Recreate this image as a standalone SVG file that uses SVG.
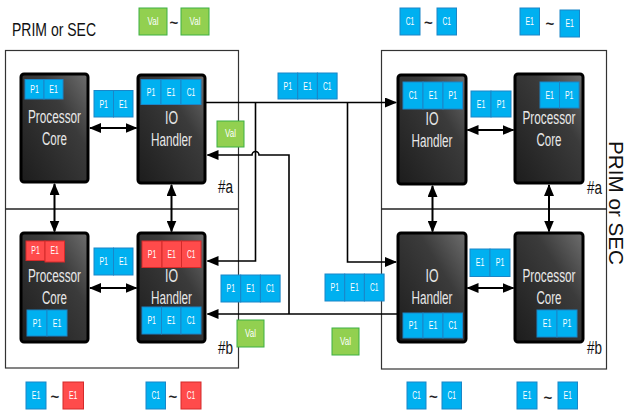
<svg xmlns="http://www.w3.org/2000/svg" width="627" height="410" viewBox="0 0 627 410">
<defs>
<linearGradient id="dk" x1="1" y1="0" x2="0" y2="1">
<stop offset="0" stop-color="#6e6e6e"/>
<stop offset="0.35" stop-color="#3b3b3b"/>
<stop offset="1" stop-color="#1c1c1c"/>
</linearGradient>
<marker id="ah" markerUnits="userSpaceOnUse" viewBox="0 0 12 10" markerWidth="12" markerHeight="10" refX="11" refY="5" orient="auto-start-reverse">
<path d="M0,0 L12,5 L0,10 Z" fill="#000"/>
</marker>
<style>
.frame{fill:#fff;stroke:#333;stroke-width:1.2}
.div{stroke:#222;stroke-width:1.3}
.node{fill:url(#dk);stroke:#000;stroke-width:3}
.nt{font-family:"Liberation Sans",Arial,sans-serif;font-size:17.5px;fill:#e8e8e8;text-anchor:middle}
.b{fill:#00b0f0;stroke:#1a86c8;stroke-width:1}
.r{fill:#ff4b4b;stroke:#d42a2a;stroke-width:1}
.g{fill:#92d050;stroke:#3cb043;stroke-width:1}
.t{font-family:"Liberation Sans",Arial,sans-serif;font-size:10px;fill:#fff;text-anchor:middle}
.lb{font-family:"Liberation Sans",Arial,sans-serif;fill:#111}
.tl{font-family:"Liberation Sans",Arial,sans-serif;font-size:15px;font-weight:bold;fill:#222;text-anchor:middle}
.c{fill:none;stroke:#000;stroke-width:1.6}
.d{fill:none;stroke:#000;stroke-width:2}
</style>
</defs>

<g id="frames">
<rect class="frame" x="5.5" y="50.5" width="233" height="317.5"/>
<line class="div" x1="5.5" y1="209" x2="238.5" y2="209"/>
<rect class="frame" x="381.5" y="50.5" width="225" height="318.5"/>
<line class="div" x1="381.5" y1="209" x2="606.5" y2="209"/>
</g>

<g id="labels">
<text class="lb" x="12" y="36" font-size="18.5" textLength="84" lengthAdjust="spacingAndGlyphs">PRIM or SEC</text>
<text class="lb" transform="translate(609,141) rotate(90)" font-size="19.5" textLength="124" lengthAdjust="spacingAndGlyphs">PRIM or SEC</text>
<text class="lb" x="218" y="193" font-size="18" textLength="15" lengthAdjust="spacingAndGlyphs">#a</text>
<text class="lb" x="218" y="354" font-size="18" textLength="15" lengthAdjust="spacingAndGlyphs">#b</text>
<text class="lb" x="587" y="194" font-size="18" textLength="15" lengthAdjust="spacingAndGlyphs">#a</text>
<text class="lb" x="587" y="354" font-size="18" textLength="15" lengthAdjust="spacingAndGlyphs">#b</text>
</g>

<g id="connectors">
<line class="d" x1="90" y1="128" x2="136.5" y2="128" marker-start="url(#ah)" marker-end="url(#ah)"/>
<line class="d" x1="90" y1="288" x2="136.5" y2="288" marker-start="url(#ah)" marker-end="url(#ah)"/>
<line class="d" x1="54.5" y1="184" x2="54.5" y2="231.5" marker-start="url(#ah)" marker-end="url(#ah)"/>
<line class="d" x1="171.5" y1="185" x2="171.5" y2="231.5" marker-start="url(#ah)" marker-end="url(#ah)"/>
<line class="d" x1="467.5" y1="130" x2="513.5" y2="130" marker-start="url(#ah)" marker-end="url(#ah)"/>
<line class="d" x1="467.5" y1="288" x2="513.5" y2="288" marker-start="url(#ah)" marker-end="url(#ah)"/>
<line class="d" x1="432.5" y1="186" x2="432.5" y2="231.5" marker-start="url(#ah)" marker-end="url(#ah)"/>
<line class="d" x1="549" y1="185" x2="549" y2="231.5" marker-start="url(#ah)" marker-end="url(#ah)"/>
<path class="c" d="M206,102.5 H396" marker-end="url(#ah)"/>
<path class="c" d="M255.5,102.5 V261 H207.5" marker-end="url(#ah)"/>
<path class="c" d="M347.5,102.5 V262 H396" marker-end="url(#ah)"/>
<path class="c" d="M397,314 H207.5" marker-end="url(#ah)"/>
<path class="c" d="M289,314 V155 H259 A3.5,3.5 0 0 0 252,155 H207.5" marker-end="url(#ah)"/>
</g>

<g id="proc-a-left">
<rect class="node" x="21" y="74" width="67" height="108" rx="3"/>
<rect class="b" x="25" y="79.5" width="19" height="19.5"/><text class="t" x="34.5" y="92.7" textLength="8.5" lengthAdjust="spacingAndGlyphs">P1</text>
<rect class="b" x="44" y="79.5" width="19" height="19.5"/><text class="t" x="53.5" y="92.7" textLength="8.5" lengthAdjust="spacingAndGlyphs">E1</text>
<text class="nt" x="54.5" y="123" textLength="53" lengthAdjust="spacingAndGlyphs">Processor</text>
<text class="nt" x="54.5" y="145" textLength="25" lengthAdjust="spacingAndGlyphs">Core</text>
</g>

<g id="io-a-left">
<rect class="node" x="138" y="75" width="67" height="108" rx="3"/>
<rect class="b" x="141" y="79.5" width="20" height="25"/><text class="t" x="151" y="95.5" textLength="8.5" lengthAdjust="spacingAndGlyphs">P1</text>
<rect class="b" x="161" y="79.5" width="20" height="25"/><text class="t" x="171" y="95.5" textLength="8.5" lengthAdjust="spacingAndGlyphs">E1</text>
<rect class="b" x="181" y="79.5" width="20" height="25"/><text class="t" x="191" y="95.5" textLength="8.5" lengthAdjust="spacingAndGlyphs">C1</text>
<text class="nt" x="171.5" y="124" textLength="13" lengthAdjust="spacingAndGlyphs">IO</text>
<text class="nt" x="171.5" y="146" textLength="41" lengthAdjust="spacingAndGlyphs">Handler</text>
</g>

<g id="proc-b-left">
<rect class="node" x="21" y="233" width="67" height="109" rx="3"/>
<rect class="r" x="26" y="241" width="19" height="19.5"/><text class="t" x="35.5" y="254.2" textLength="8.5" lengthAdjust="spacingAndGlyphs">P1</text>
<rect class="r" x="45" y="241" width="19.5" height="21"/><text class="t" x="54.7" y="254.2" textLength="8.5" lengthAdjust="spacingAndGlyphs">E1</text>
<rect class="b" x="27" y="310" width="20" height="26"/><text class="t" x="37" y="326.5" textLength="8.5" lengthAdjust="spacingAndGlyphs">P1</text>
<rect class="b" x="47" y="310" width="20" height="26"/><text class="t" x="57" y="326.5" textLength="8.5" lengthAdjust="spacingAndGlyphs">E1</text>
<text class="nt" x="54.5" y="282" textLength="53" lengthAdjust="spacingAndGlyphs">Processor</text>
<text class="nt" x="54.5" y="304" textLength="25" lengthAdjust="spacingAndGlyphs">Core</text>
</g>

<g id="io-b-left">
<rect class="node" x="138" y="233" width="67" height="109" rx="3"/>
<rect class="r" x="142" y="241" width="20" height="26.5"/><text class="t" x="152" y="257.7" textLength="8.5" lengthAdjust="spacingAndGlyphs">P1</text>
<rect class="r" x="162" y="241" width="19.5" height="26.5"/><text class="t" x="171.7" y="257.7" textLength="8.5" lengthAdjust="spacingAndGlyphs">E1</text>
<rect class="r" x="181.5" y="241" width="19.5" height="26.5"/><text class="t" x="191.2" y="257.7" textLength="8.5" lengthAdjust="spacingAndGlyphs">C1</text>
<rect class="b" x="142" y="307" width="19.5" height="27"/><text class="t" x="151.7" y="324" textLength="8.5" lengthAdjust="spacingAndGlyphs">P1</text>
<rect class="b" x="161.5" y="307" width="19.5" height="27"/><text class="t" x="171.2" y="324" textLength="8.5" lengthAdjust="spacingAndGlyphs">E1</text>
<rect class="b" x="181" y="307" width="20" height="27"/><text class="t" x="191" y="324" textLength="8.5" lengthAdjust="spacingAndGlyphs">C1</text>
<text class="nt" x="171.5" y="282" textLength="13" lengthAdjust="spacingAndGlyphs">IO</text>
<text class="nt" x="171.5" y="304" textLength="41" lengthAdjust="spacingAndGlyphs">Handler</text>
</g>

<g id="io-a-right">
<rect class="node" x="398" y="75" width="68" height="109" rx="3"/>
<rect class="b" x="403" y="82" width="20" height="27"/><text class="t" x="413" y="99" textLength="8.5" lengthAdjust="spacingAndGlyphs">C1</text>
<rect class="b" x="423" y="82" width="20" height="27"/><text class="t" x="433" y="99" textLength="8.5" lengthAdjust="spacingAndGlyphs">E1</text>
<rect class="b" x="443" y="82" width="19.5" height="27"/><text class="t" x="452.7" y="99" textLength="8.5" lengthAdjust="spacingAndGlyphs">P1</text>
<text class="nt" x="432" y="125" textLength="13" lengthAdjust="spacingAndGlyphs">IO</text>
<text class="nt" x="432" y="147" textLength="41" lengthAdjust="spacingAndGlyphs">Handler</text>
</g>

<g id="proc-a-right">
<rect class="node" x="515" y="74" width="68" height="109" rx="3"/>
<rect class="b" x="540" y="82" width="19.5" height="26"/><text class="t" x="549.7" y="98.5" textLength="8.5" lengthAdjust="spacingAndGlyphs">E1</text>
<rect class="b" x="559.5" y="82" width="19.5" height="26"/><text class="t" x="569.2" y="98.5" textLength="8.5" lengthAdjust="spacingAndGlyphs">P1</text>
<text class="nt" x="549" y="124" textLength="53" lengthAdjust="spacingAndGlyphs">Processor</text>
<text class="nt" x="549" y="146" textLength="25" lengthAdjust="spacingAndGlyphs">Core</text>
</g>

<g id="io-b-right">
<rect class="node" x="398" y="233" width="68" height="109" rx="3"/>
<rect class="b" x="403" y="313" width="20" height="25"/><text class="t" x="413" y="329" textLength="8.5" lengthAdjust="spacingAndGlyphs">P1</text>
<rect class="b" x="423" y="313" width="20" height="25"/><text class="t" x="433" y="329" textLength="8.5" lengthAdjust="spacingAndGlyphs">E1</text>
<rect class="b" x="443" y="313" width="19.5" height="25"/><text class="t" x="452.7" y="329" textLength="8.5" lengthAdjust="spacingAndGlyphs">C1</text>
<text class="nt" x="432" y="282" textLength="13" lengthAdjust="spacingAndGlyphs">IO</text>
<text class="nt" x="432" y="304" textLength="41" lengthAdjust="spacingAndGlyphs">Handler</text>
</g>

<g id="proc-b-right">
<rect class="node" x="515" y="233" width="68" height="109" rx="3"/>
<rect class="b" x="537" y="310" width="20" height="27"/><text class="t" x="547" y="327" textLength="8.5" lengthAdjust="spacingAndGlyphs">E1</text>
<rect class="b" x="557" y="310" width="20" height="27"/><text class="t" x="567" y="327" textLength="8.5" lengthAdjust="spacingAndGlyphs">P1</text>
<text class="nt" x="549" y="282" textLength="53" lengthAdjust="spacingAndGlyphs">Processor</text>
<text class="nt" x="549" y="304" textLength="25" lengthAdjust="spacingAndGlyphs">Core</text>
</g>

<g id="messages">
<rect class="b" x="94" y="90.5" width="19.5" height="26.5"/><text class="t" x="103.7" y="107.5" textLength="8.5" lengthAdjust="spacingAndGlyphs">P1</text>
<rect class="b" x="113.5" y="90.5" width="19.5" height="26.5"/><text class="t" x="123.2" y="107.5" textLength="8.5" lengthAdjust="spacingAndGlyphs">E1</text>
<rect class="b" x="94" y="248" width="19.5" height="27"/><text class="t" x="103.7" y="265" textLength="8.5" lengthAdjust="spacingAndGlyphs">P1</text>
<rect class="b" x="113.5" y="248" width="19.5" height="27"/><text class="t" x="123.2" y="265" textLength="8.5" lengthAdjust="spacingAndGlyphs">E1</text>
<rect class="b" x="471" y="91" width="20" height="26"/><text class="t" x="481" y="107.5" textLength="8.5" lengthAdjust="spacingAndGlyphs">E1</text>
<rect class="b" x="491" y="91" width="20" height="26"/><text class="t" x="501" y="107.5" textLength="8.5" lengthAdjust="spacingAndGlyphs">P1</text>
<rect class="b" x="470" y="249" width="20" height="27.5"/><text class="t" x="480" y="266" textLength="8.5" lengthAdjust="spacingAndGlyphs">E1</text>
<rect class="b" x="490" y="249" width="20" height="27.5"/><text class="t" x="500" y="266" textLength="8.5" lengthAdjust="spacingAndGlyphs">P1</text>
<rect class="b" x="278" y="73" width="19.7" height="26"/><text class="t" x="287.8" y="89.5" textLength="8.5" lengthAdjust="spacingAndGlyphs">P1</text>
<rect class="b" x="297.7" y="73" width="19.7" height="26"/><text class="t" x="307.5" y="89.5" textLength="8.5" lengthAdjust="spacingAndGlyphs">E1</text>
<rect class="b" x="317.4" y="73" width="19.7" height="26"/><text class="t" x="327.2" y="89.5" textLength="8.5" lengthAdjust="spacingAndGlyphs">C1</text>
<rect class="b" x="221" y="275" width="19.7" height="27"/><text class="t" x="230.8" y="292" textLength="8.5" lengthAdjust="spacingAndGlyphs">P1</text>
<rect class="b" x="240.7" y="275" width="19.7" height="27"/><text class="t" x="250.5" y="292" textLength="8.5" lengthAdjust="spacingAndGlyphs">E1</text>
<rect class="b" x="260.4" y="275" width="19.7" height="27"/><text class="t" x="270.2" y="292" textLength="8.5" lengthAdjust="spacingAndGlyphs">C1</text>
<rect class="b" x="325" y="274" width="19.7" height="27"/><text class="t" x="334.8" y="291" textLength="8.5" lengthAdjust="spacingAndGlyphs">P1</text>
<rect class="b" x="344.7" y="274" width="19.7" height="27"/><text class="t" x="354.5" y="291" textLength="8.5" lengthAdjust="spacingAndGlyphs">E1</text>
<rect class="b" x="364.4" y="274" width="19.7" height="27"/><text class="t" x="374.2" y="291" textLength="8.5" lengthAdjust="spacingAndGlyphs">C1</text>
<rect class="g" x="217" y="121" width="27" height="26"/><text class="t" x="230.5" y="137" font-size="9" textLength="11" lengthAdjust="spacingAndGlyphs">Val</text>
<rect class="g" x="237" y="320" width="27" height="27"/><text class="t" x="250.5" y="336.5" font-size="9" textLength="11" lengthAdjust="spacingAndGlyphs">Val</text>
<rect class="g" x="332" y="328" width="27" height="27"/><text class="t" x="345.5" y="344.5" font-size="9" textLength="11" lengthAdjust="spacingAndGlyphs">Val</text>
</g>

<g id="legend">
<rect class="g" x="139" y="8" width="28" height="27"/><text class="t" x="153" y="24.5" font-size="9" textLength="11" lengthAdjust="spacingAndGlyphs">Val</text>
<text class="tl" x="174" y="28">~</text>
<rect class="g" x="181" y="8" width="28" height="27"/><text class="t" x="195" y="24.5" font-size="9" textLength="11" lengthAdjust="spacingAndGlyphs">Val</text>
<rect class="b" x="400" y="8" width="20" height="27"/><text class="t" x="410" y="25" textLength="8.5" lengthAdjust="spacingAndGlyphs">C1</text>
<text class="tl" x="428.5" y="28">~</text>
<rect class="b" x="437" y="8" width="19.5" height="27"/><text class="t" x="446.7" y="25" textLength="8.5" lengthAdjust="spacingAndGlyphs">C1</text>
<rect class="b" x="520" y="8" width="19.5" height="27"/><text class="t" x="529.7" y="25" textLength="8.5" lengthAdjust="spacingAndGlyphs">E1</text>
<text class="tl" x="550" y="29">~</text>
<rect class="b" x="560" y="10" width="19.5" height="27"/><text class="t" x="569.7" y="27" textLength="8.5" lengthAdjust="spacingAndGlyphs">E1</text>
<rect class="b" x="26" y="382" width="20" height="27"/><text class="t" x="36" y="399" textLength="8.5" lengthAdjust="spacingAndGlyphs">E1</text>
<text class="tl" x="55" y="402">~</text>
<rect class="r" x="63" y="382" width="20.5" height="27"/><text class="t" x="73.2" y="399" textLength="8.5" lengthAdjust="spacingAndGlyphs">E1</text>
<rect class="b" x="146" y="382" width="19.5" height="27"/><text class="t" x="155.7" y="399" textLength="8.5" lengthAdjust="spacingAndGlyphs">C1</text>
<text class="tl" x="173" y="402">~</text>
<rect class="r" x="181" y="382" width="20" height="27"/><text class="t" x="191" y="399" textLength="8.5" lengthAdjust="spacingAndGlyphs">C1</text>
<rect class="b" x="407" y="382" width="19" height="27"/><text class="t" x="416.5" y="399" textLength="8.5" lengthAdjust="spacingAndGlyphs">C1</text>
<text class="tl" x="433.5" y="402">~</text>
<rect class="b" x="442" y="382" width="19.5" height="27"/><text class="t" x="451.7" y="399" textLength="8.5" lengthAdjust="spacingAndGlyphs">C1</text>
<rect class="b" x="517" y="382" width="20" height="27"/><text class="t" x="527" y="399" textLength="8.5" lengthAdjust="spacingAndGlyphs">E1</text>
<text class="tl" x="548" y="403">~</text>
<rect class="b" x="558" y="382" width="19.5" height="27"/><text class="t" x="567.7" y="399" textLength="8.5" lengthAdjust="spacingAndGlyphs">E1</text>
</g>
</svg>
